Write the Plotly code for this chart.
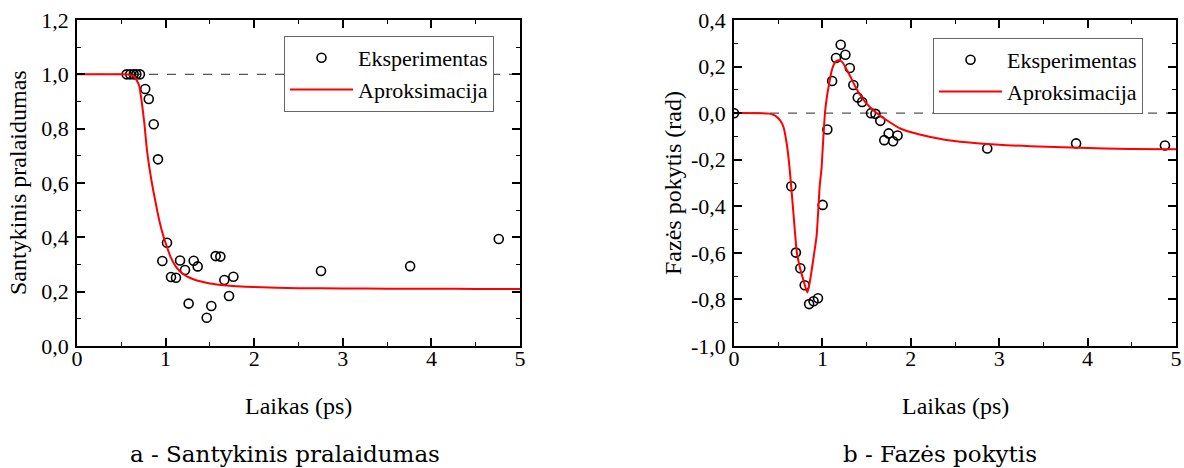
import plotly.graph_objects as go

# ---- Left panel: relative transmission ----
exp_a_x = [0.56, 0.60, 0.64, 0.67, 0.71, 0.77, 0.81, 0.866, 0.914, 0.963, 1.016, 1.061, 1.117,
           1.163, 1.219, 1.26, 1.317, 1.362, 1.464, 1.516, 1.565, 1.618, 1.663, 1.716, 1.765,
           2.754, 3.76, 4.76]
exp_a_y = [1.0, 1.0, 1.0, 1.0, 1.0, 0.946, 0.909, 0.816, 0.687, 0.313, 0.380, 0.254, 0.251,
           0.315, 0.280, 0.156, 0.314, 0.293, 0.104, 0.147, 0.331, 0.329, 0.243, 0.184, 0.255,
           0.276, 0.294, 0.394]
fit_a_x = [0, 0.5, 0.6, 0.65, 0.7, 0.73, 0.76, 0.79, 0.84, 0.88, 0.93, 0.97, 1.01, 1.06, 1.11,
           1.17, 1.24, 1.32, 1.39, 1.5, 1.65, 1.8, 2.0, 2.5, 3.0, 3.5, 4.0, 4.5, 5.0]
fit_a_y = [1.0, 1.0, 0.998, 0.99, 0.96, 0.90, 0.82, 0.72, 0.61, 0.54, 0.46, 0.41, 0.37, 0.325,
           0.295, 0.272, 0.256, 0.245, 0.238, 0.23, 0.224, 0.22, 0.217, 0.213, 0.212, 0.211,
           0.211, 0.21, 0.21]

# ---- Right panel: phase change ----
exp_b_x = [0.0, 0.648, 0.70, 0.75, 0.80, 0.85, 0.90, 0.95, 1.003, 1.056, 1.11, 1.154, 1.207,
           1.26, 1.31, 1.35, 1.40, 1.45, 1.55, 1.60, 1.655, 1.70, 1.75, 1.80, 1.85, 2.865,
           3.87, 4.875]
exp_b_y = [0.0, -0.314, -0.599, -0.666, -0.739, -0.82, -0.808, -0.795, -0.394, -0.07, 0.138,
           0.237, 0.294, 0.251, 0.194, 0.121, 0.067, 0.048, 0.0, -0.003, -0.033, -0.116,
           -0.087, -0.121, -0.096, -0.152, -0.13, -0.139]
fit_b_x = [0, 0.40, 0.46, 0.52, 0.56, 0.60, 0.63, 0.67, 0.71, 0.75, 0.78, 0.81, 0.83, 0.85,
           0.87, 0.90, 0.935, 0.97, 0.99, 1.01, 1.03, 1.055, 1.08, 1.10, 1.125, 1.15, 1.18,
           1.21, 1.236, 1.27, 1.31, 1.385, 1.50, 1.65, 1.88, 2.10, 2.40, 2.78, 3.35, 3.91,
           4.48, 5.0]
fit_b_y = [0.0, -0.002, -0.01, -0.03, -0.06, -0.14, -0.24, -0.42, -0.595, -0.67, -0.71,
           -0.75, -0.77, -0.74, -0.696, -0.62, -0.525, -0.31, -0.238, -0.11, 0.005, 0.08,
           0.134, 0.175, 0.205, 0.222, 0.227, 0.224, 0.213, 0.19, 0.162, 0.105, 0.041,
           -0.01, -0.066, -0.092, -0.115, -0.13, -0.142, -0.149, -0.154, -0.155]

x_ticks = [0, 1, 2, 3, 4, 5]
x_ticktext = ["0", "1", "2", "3", "4", "5"]
ya_ticks = [0.0, 0.2, 0.4, 0.6, 0.8, 1.0, 1.2]
ya_ticktext = ["0,0", "0,2", "0,4", "0,6", "0,8", "1,0", "1,2"]
yb_ticks = [-1.0, -0.8, -0.6, -0.4, -0.2, 0.0, 0.2, 0.4]
yb_ticktext = ["-1,0", "-0,8", "-0,6", "-0,4", "-0,2", "0,0", "0,2", "0,4"]

FONT = "Liberation Serif"
RED = "#ff0000"
W, H = 1184, 468

fig = go.Figure()

marker_style = dict(symbol="circle-open", size=9, color="black", line=dict(width=1.6, color="black"))

fig.add_trace(go.Scatter(x=exp_a_x, y=exp_a_y, mode="markers", name="Eksperimentas",
                         marker=marker_style, xaxis="x", yaxis="y", legend="legend"))
fig.add_trace(go.Scatter(x=fit_a_x, y=fit_a_y, mode="lines", name="Aproksimacija",
                         line=dict(color=RED, width=2, shape="spline", smoothing=0.5),
                         xaxis="x", yaxis="y", legend="legend"))
fig.add_trace(go.Scatter(x=exp_b_x, y=exp_b_y, mode="markers", name="Eksperimentas",
                         marker=marker_style, xaxis="x2", yaxis="y2", legend="legend2"))
fig.add_trace(go.Scatter(x=fit_b_x, y=fit_b_y, mode="lines", name="Aproksimacija",
                         line=dict(color=RED, width=2, shape="spline", smoothing=0.5),
                         xaxis="x2", yaxis="y2", legend="legend2"))

yd = [1 - 346 / H, 1 - 20 / H]

axis_common = dict(showline=True, linecolor="black", linewidth=1.5, mirror="ticks",
                   ticks="inside", ticklen=8, tickwidth=1.5, tickcolor="black",
                   showgrid=False, zeroline=False, automargin=False,
                   tickfont=dict(family=FONT, size=22, color="black"))
minor_x = dict(dtick=0.5, ticks="inside", ticklen=4, tickwidth=1.2, tickcolor="black")
minor_y = dict(dtick=0.1, ticks="inside", ticklen=4, tickwidth=1.2, tickcolor="black")

legend_common = dict(xanchor="left", yanchor="top", bgcolor="white", bordercolor="#666666",
                     borderwidth=1, font=dict(family=FONT, size=22, color="black"),
                     tracegroupgap=0, itemwidth=63)

title_font = dict(family=FONT, size=24, color="black")
cap_font = dict(family="DejaVu Serif", size=23, color="black")

fig.update_layout(
    width=W, height=H,
    margin=dict(l=0, r=0, t=0, b=0),
    paper_bgcolor="white", plot_bgcolor="white",
    showlegend=True,
    xaxis=dict(domain=[77 / W, 520 / W], range=[0, 5], tickvals=x_ticks, ticktext=x_ticktext,
               anchor="y", minor=minor_x, ticklabelstandoff=-8, **axis_common),
    yaxis=dict(domain=yd, range=[0, 1.2], tickvals=ya_ticks, ticktext=ya_ticktext,
               anchor="x", minor=minor_y, ticklabelstandoff=2, **axis_common),
    xaxis2=dict(domain=[734 / W, 1176 / W], range=[0, 5], tickvals=x_ticks, ticktext=x_ticktext,
                anchor="y2", minor=minor_x, ticklabelstandoff=-8, **axis_common),
    yaxis2=dict(domain=yd, range=[-1.0, 0.4], tickvals=yb_ticks, ticktext=yb_ticktext,
                anchor="x2", minor=minor_y, ticklabelstandoff=2, **axis_common),
    legend=dict(x=284 / W, y=1 - 36 / H, **legend_common),
    legend2=dict(x=933 / W, y=1 - 38 / H, **legend_common),
    shapes=[
        dict(type="line", xref="x", yref="y", x0=0, x1=5, y0=1.0, y1=1.0,
             line=dict(color="#555555", width=1.2, dash="dash"), layer="below"),
        dict(type="line", xref="x2", yref="y2", x0=0, x1=5, y0=0.0, y1=0.0,
             line=dict(color="#555555", width=1.2, dash="dash"), layer="below"),
    ],
    annotations=[
        dict(text="Laikas (ps)", xref="paper", yref="paper", x=298.5 / W, y=1 - 406 / H,
             xanchor="center", yanchor="middle", showarrow=False, font=title_font),
        dict(text="Laikas (ps)", xref="paper", yref="paper", x=955 / W, y=1 - 406 / H,
             xanchor="center", yanchor="middle", showarrow=False, font=title_font),
        dict(text="Santykinis pralaidumas", xref="paper", yref="paper", x=18 / W, y=1 - 183 / H,
             xanchor="center", yanchor="middle", showarrow=False, textangle=-90, font=title_font),
        dict(text="Fazės pokytis (rad)", xref="paper", yref="paper", x=673 / W, y=1 - 183 / H,
             xanchor="center", yanchor="middle", showarrow=False, textangle=-90, font=title_font),
        dict(text="a - Santykinis pralaidumas", xref="paper", yref="paper",
             x=285 / W, y=1 - 454 / H, xanchor="center", yanchor="middle", showarrow=False,
             font=cap_font),
        dict(text="b - Fazės pokytis", xref="paper", yref="paper",
             x=940 / W, y=1 - 454 / H, xanchor="center", yanchor="middle", showarrow=False,
             font=cap_font),
    ],
)

fig.write_html("out.html", config={"displayModeBar": False},
               post_script="document.body.style.margin='0px';")
